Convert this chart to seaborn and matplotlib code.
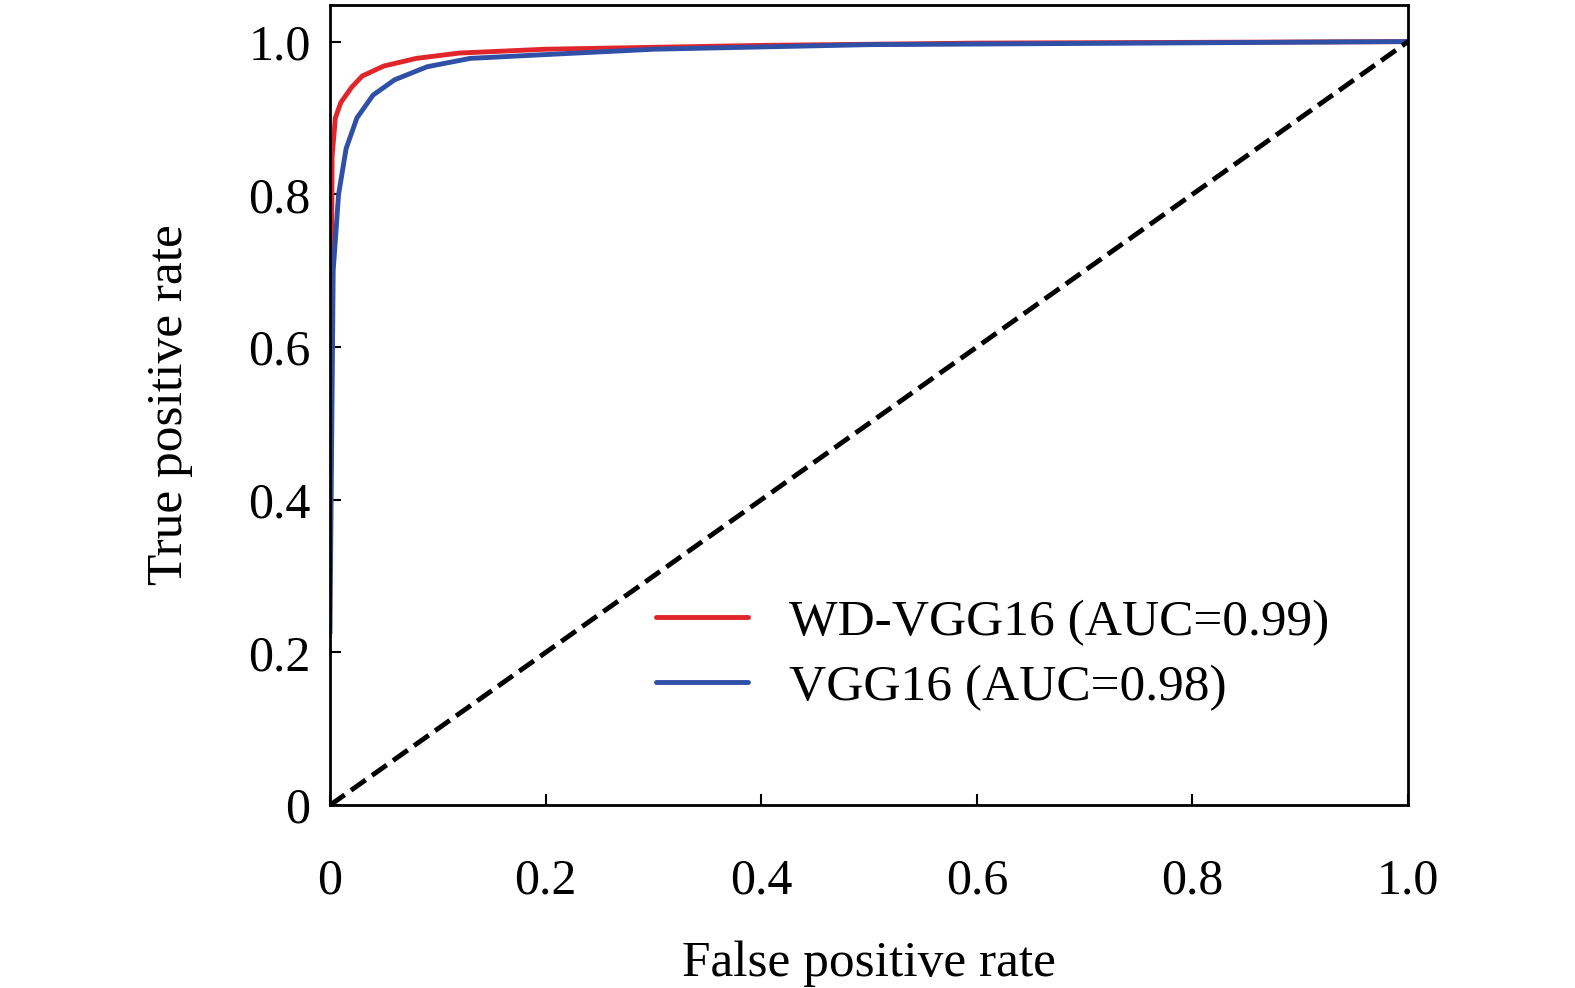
import pandas as pd
import seaborn as sns
import matplotlib.pyplot as plt

wd_fpr = [0, 0, 0.002, 0.005, 0.01, 0.02, 0.03, 0.05, 0.08, 0.12, 0.2, 0.4, 0.6, 1.0]
wd_tpr = [0, 0.68, 0.85, 0.90, 0.92, 0.94, 0.955, 0.968, 0.978, 0.985, 0.99, 0.995, 0.998, 1.0]
vgg_fpr = [0, 0, 0.003, 0.008, 0.015, 0.025, 0.04, 0.06, 0.09, 0.13, 0.2, 0.3, 0.5, 1.0]
vgg_tpr = [0, 0.45, 0.70, 0.80, 0.86, 0.90, 0.93, 0.95, 0.967, 0.978, 0.983, 0.99, 0.996, 1.0]

sns.set_style('ticks')
plt.rcParams['font.family'] = ['Liberation Serif', 'DejaVu Serif']
plt.rcParams['text.color'] = 'black'
plt.rcParams['axes.labelcolor'] = 'black'
plt.rcParams['xtick.color'] = 'black'
plt.rcParams['ytick.color'] = 'black'

fig = plt.figure(figsize=(15.75, 9.88), dpi=100)
ax = fig.add_axes([0.2095, 0.185, 0.6845, 0.81])

sns.lineplot(x=wd_fpr, y=wd_tpr, color='#e0262b', lw=3.5, sort=False, ax=ax,
             label='WD-VGG16 (AUC=0.99)')
sns.lineplot(x=vgg_fpr, y=vgg_tpr, color='#3050a8', lw=3.5, sort=False, ax=ax,
             label='VGG16 (AUC=0.98)')
ax.plot([0, 1], [0, 1], 'k--', lw=3.5)

ax.set_xlim(0, 1)
ax.set_ylim(0, 1.048)
ax.set_xticks([0, 0.2, 0.4, 0.6, 0.8, 1.0], ['0', '0.2', '0.4', '0.6', '0.8', '1.0'])
ax.set_yticks([0, 0.2, 0.4, 0.6, 0.8, 1.0], ['0', '0.2', '0.4', '0.6', '0.8', '1.0'])
ax.tick_params(direction='in', length=8, width=1.5, labelsize=36)
ax.tick_params(axis='x', pad=38)
ax.tick_params(axis='y', pad=14)
for s in ax.spines.values():
    s.set_linewidth(2)
    s.set_color('black')
ax.set_xlabel('False positive rate', fontsize=37, labelpad=26)
ax.set_ylabel('True positive rate', fontsize=37, labelpad=40)
ax.legend(loc='lower right', bbox_to_anchor=(0.97, 0.06), frameon=False, fontsize=37,
          handlelength=1.8, handletextpad=0.8, labelspacing=0.35)

fig.savefig('out.png', dpi=100)
